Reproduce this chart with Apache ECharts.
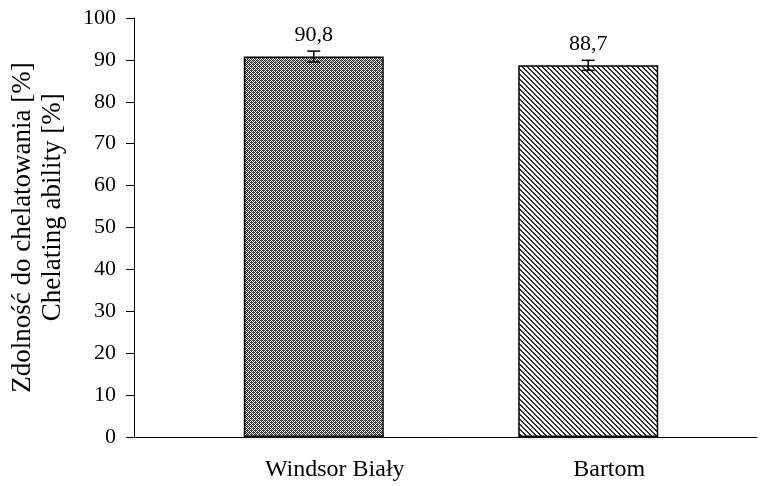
<!DOCTYPE html>
<html><head><meta charset="utf-8">
<script src="https://cdn.jsdelivr.net/npm/echarts@6/dist/echarts.min.js"></script>
<style>html,body{margin:0;padding:0;background:#fff}#c{width:760px;height:486px}</style>
</head><body><div id="c"></div>
<script>
var categories = ['Windsor Biały', 'Bartom'];
var values = [90.8, 88.7];
var errors = [1.3, 1.2];
var yTicks = [0, 10, 20, 30, 40, 50, 60, 70, 80, 90, 100];
var yTitleLines = ['Zdolność do chelatowania [%]', 'Chelating ability [%]'];

function makePattern(kind) {
  var c = document.createElement('canvas');
  var ctx = c.getContext('2d');
  if (kind === 'check') {
    c.width = 4; c.height = 4;
    ctx.fillStyle = '#fff'; ctx.fillRect(0, 0, 4, 4);
    ctx.fillStyle = '#2a2a2a';
    ctx.fillRect(0, 0, 1, 1); ctx.fillRect(2, 0, 1, 1);
    ctx.fillRect(1, 1, 1, 1); ctx.fillRect(3, 1, 1, 1);
    ctx.fillRect(0, 2, 1, 1); ctx.fillRect(2, 2, 1, 1);
    ctx.fillRect(1, 3, 1, 1); ctx.fillRect(3, 3, 1, 1);
    ctx.fillStyle = '#666';
    ctx.fillRect(1, 0, 1, 1); ctx.fillRect(3, 2, 1, 1);
  } else {
    var n = 5;
    c.width = n; c.height = n;
    ctx.fillStyle = '#fff'; ctx.fillRect(0, 0, n, n);
    ctx.fillStyle = '#333';
    for (var y = 0; y < n; y++) {
      for (var x = 0; x < n; x++) {
        var d = ((x - y) % n + n) % n;
        if (d === 0 || d === 1) ctx.fillRect(x, y, 1, 1);
      }
    }
  }
  return c;
}
var patterns = [makePattern('check'), makePattern('diag')];

var chart = echarts.init(document.getElementById('c'));
var font = '"Liberation Serif", "Times New Roman", serif';
var barData = values.map(function (v, i) {
  return {
    value: [i + 1, v],
    itemStyle: { color: { image: patterns[i], repeat: 'repeat' } }
  };
});
var errData = values.map(function (v, i) { return [i + 1, v - errors[i], v + errors[i]]; });

chart.setOption({
  animation: false,
  textStyle: { fontFamily: font },
  grid: { left: 133, right: 3, top: 18, bottom: 49 },
  xAxis: {
    type: 'value', min: 0.345, max: 2.615,
    axisLine: { show: true, lineStyle: { color: '#000', width: 1 } },
    axisTick: { show: false },
    splitLine: { show: false },
    axisLabel: {
      customValues: [1, 2], margin: 21,
      color: '#000', fontSize: 24, fontFamily: font,
      padding: [0, 0, 0, 42],
      formatter: function (v) { return categories[Math.round(v) - 1] || ''; }
    }
  },
  yAxis: {
    type: 'value', min: 0, max: 100, interval: 10,
    name: yTitleLines[0] + '\n      ' + yTitleLines[1],
    nameLocation: 'middle', nameGap: 66,
    nameTextStyle: { color: '#000', fontSize: 27, fontFamily: font, lineHeight: 30 },
    axisLine: { show: true, lineStyle: { color: '#000', width: 1 } },
    axisTick: { show: true, inside: false, length: 8, lineStyle: { color: '#000' } },
    splitLine: { show: false },
    axisLabel: {
      color: '#000', fontSize: 22, fontFamily: font, margin: 18,
      formatter: function (v) { return yTicks.indexOf(v) >= 0 ? String(v) : ''; }
    }
  },
  series: [
    {
      type: 'bar', barWidth: 140, data: barData,
      itemStyle: { borderColor: '#000', borderWidth: 1.5 },
      label: {
        show: true, position: 'top', distance: 10, color: '#000',
        fontSize: 22, fontFamily: font,
        formatter: function (p) { return String(p.value[1]).replace('.', ','); }
      },
      z: 2
    },
    {
      type: 'custom', data: errData, z: 5,
      renderItem: function (params, api) {
        var x = api.value(0);
        var lo = api.coord([x, api.value(1)]);
        var hi = api.coord([x, api.value(2)]);
        var w = 6.5;
        var st = { stroke: '#000', lineWidth: 1.5 };
        return {
          type: 'group', children: [
            { type: 'line', shape: { x1: lo[0], y1: lo[1], x2: hi[0], y2: hi[1] }, style: st },
            { type: 'line', shape: { x1: lo[0] - w, y1: lo[1], x2: lo[0] + w, y2: lo[1] }, style: st },
            { type: 'line', shape: { x1: hi[0] - w, y1: hi[1], x2: hi[0] + w, y2: hi[1] }, style: st }
          ]
        };
      }
    }
  ]
});
</script></body></html>
